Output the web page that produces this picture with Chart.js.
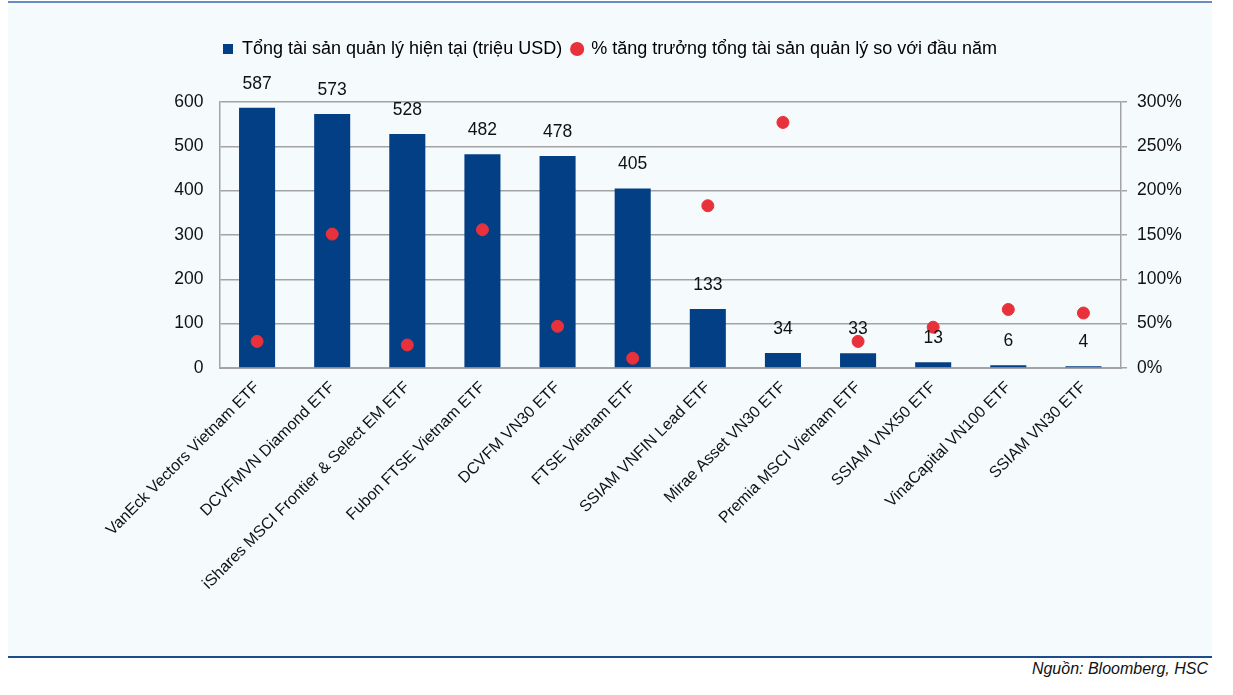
<!DOCTYPE html>
<html>
<head>
<meta charset="utf-8">
<script src="https://cdn.jsdelivr.net/npm/chart.js@4/dist/chart.umd.min.js"></script>
<style>
  html, body { margin: 0; padding: 0; background: #fff; }
  body { width: 1233px; height: 695px; position: relative; overflow: hidden; font-family: 'Liberation Sans', Arial, sans-serif; }
  #panel {
    position: absolute; left: 8px; top: 1px; width: 1204px; height: 657px;
    background: #f5fbfc;
    border-top: 2px solid #6a8cc4;
    border-bottom: 2px solid #1d4b8c;
    box-sizing: border-box;
  }
  #wrap { position: absolute; left: 8px; top: 4px; width: 1204px; height: 652px; }
  #source {
    position: absolute; right: 25px; top: 660px;
    font-style: italic; font-size: 16px; color: #111;
  }
</style>
</head>
<body>
<div id="panel"></div>
<div id="wrap"><canvas id="c"></canvas></div>
<div id="source">Nguồn: Bloomberg, HSC</div>
<script>
// Quỹ ETF và tài sản quản lý
const funds = [
  'VanEck Vectors Vietnam ETF',
  'DCVFMVN Diamond ETF',
  'iShares MSCI Frontier & Select EM ETF',
  'Fubon FTSE Vietnam ETF',
  'DCVFM VN30 ETF',
  'FTSE Vietnam ETF',
  'SSIAM VNFIN Lead ETF',
  'Mirae Asset VN30 ETF',
  'Premia MSCI Vietnam ETF',
  'SSIAM VNX50 ETF',
  'VinaCapital VN100 ETF',
  'SSIAM VN30 ETF',
];
const aum = [587, 573, 528, 482, 478, 405, 133, 34, 33, 13, 6, 4];
const growthPct = [30, 151, 26, 156, 47, 11, 183, 277, 30, 46, 66, 62];

const aumLabel = 'Tổng tài sản quản lý hiện tại (triệu USD)';
const growthLabel = '% tăng trưởng tổng tài sản quản lý so với đầu năm';

const blue = '#033f85';
const red = '#e8313a';
const gridGray = '#a3a3a3';
const font = "'Liberation Sans', Arial, sans-serif";

// số liệu trên đầu cột
const barValues = {
  id: 'barValues',
  afterDatasetsDraw(chart) {
    const meta = chart.getDatasetMeta(1);
    const ctx = chart.ctx;
    ctx.save();
    ctx.font = '17.5px ' + font;
    ctx.fillStyle = '#111';
    ctx.textAlign = 'center';
    ctx.textBaseline = 'middle';
    meta.data.forEach((bar, i) => {
      ctx.fillText(String(aum[i]), bar.x, bar.y - 24);
    });
    ctx.restore();
  }
};

// thêm khoảng trống dưới chú thích
const legendGap = {
  id: 'legendGap',
  afterInit(chart) {
    const lg = chart.legend;
    if (!lg) return;
    const fit = lg.fit;
    lg.fit = function () { fit.call(this); this.height += 34; };
  }
};

Chart.defaults.font.family = font;
Chart.defaults.color = '#111';

new Chart(document.getElementById('c'), {
  data: {
    labels: funds,
    datasets: [
      {
        type: 'scatter',
        label: growthLabel,
        data: growthPct,
        yAxisID: 'y1',
        backgroundColor: red,
        borderColor: red,
        pointRadius: 6,
        pointHoverRadius: 6,
        order: 0,
      },
      {
        type: 'bar',
        label: aumLabel,
        data: aum,
        yAxisID: 'y',
        backgroundColor: blue,
        barPercentage: 0.96,
        categoryPercentage: 0.5,
        order: 1,
      },
    ],
  },
  options: {
    responsive: true,
    maintainAspectRatio: false,
    animation: false,
    layout: { padding: { top: 26, left: 0, right: 0, bottom: 0 } },
    plugins: {
      legend: {
        position: 'top',
        reverse: true,
        labels: {
          usePointStyle: true,
          boxWidth: 10,
          boxHeight: 10,
          padding: 10,
          color: '#111',
          font: { size: 18, family: font },
          generateLabels(chart) {
            return chart.data.datasets.map((ds, i) => ({
              text: ds.label,
              fillStyle: i === 0 ? red : blue,
              strokeStyle: i === 0 ? red : blue,
              lineWidth: 0,
              pointStyle: i === 0 ? 'circle' : 'rect',
              datasetIndex: i,
              hidden: false,
            }));
          },
        },
      },
      tooltip: { enabled: false },
    },
    scales: {
      x: {
        type: 'category',
        offset: true,
        grid: { display: false, drawTicks: false },
        border: { display: true, color: gridGray, width: 2 },
        ticks: {
          autoSkip: false,
          maxRotation: 45,
          minRotation: 45,
          padding: 10,
          color: '#111',
          font: { size: 16, family: font },
        },
        afterFit(s) { s.height = 288; },
      },
      y: {
        position: 'left',
        min: 0,
        max: 600,
        grid: { color: gridGray, lineWidth: 1.5, drawTicks: false },
        border: { display: true, color: gridGray, width: 1.5 },
        ticks: {
          stepSize: 100,
          padding: 16,
          color: '#111',
          font: { size: 17.5, family: font },
        },
        afterFit(s) { s.width = 211.5; },
      },
      y1: {
        position: 'right',
        min: 0,
        max: 300,
        grid: { drawOnChartArea: false, color: gridGray, lineWidth: 1.5, tickLength: 6 },
        border: { display: true, color: gridGray, width: 1.5 },
        ticks: {
          stepSize: 50,
          padding: 10,
          color: '#111',
          font: { size: 17.5, family: font },
          callback: v => v + '%',
        },
        afterFit(s) { s.width = 91; },
      },
    },
  },
  plugins: [barValues, legendGap],
});
</script>
</body>
</html>
